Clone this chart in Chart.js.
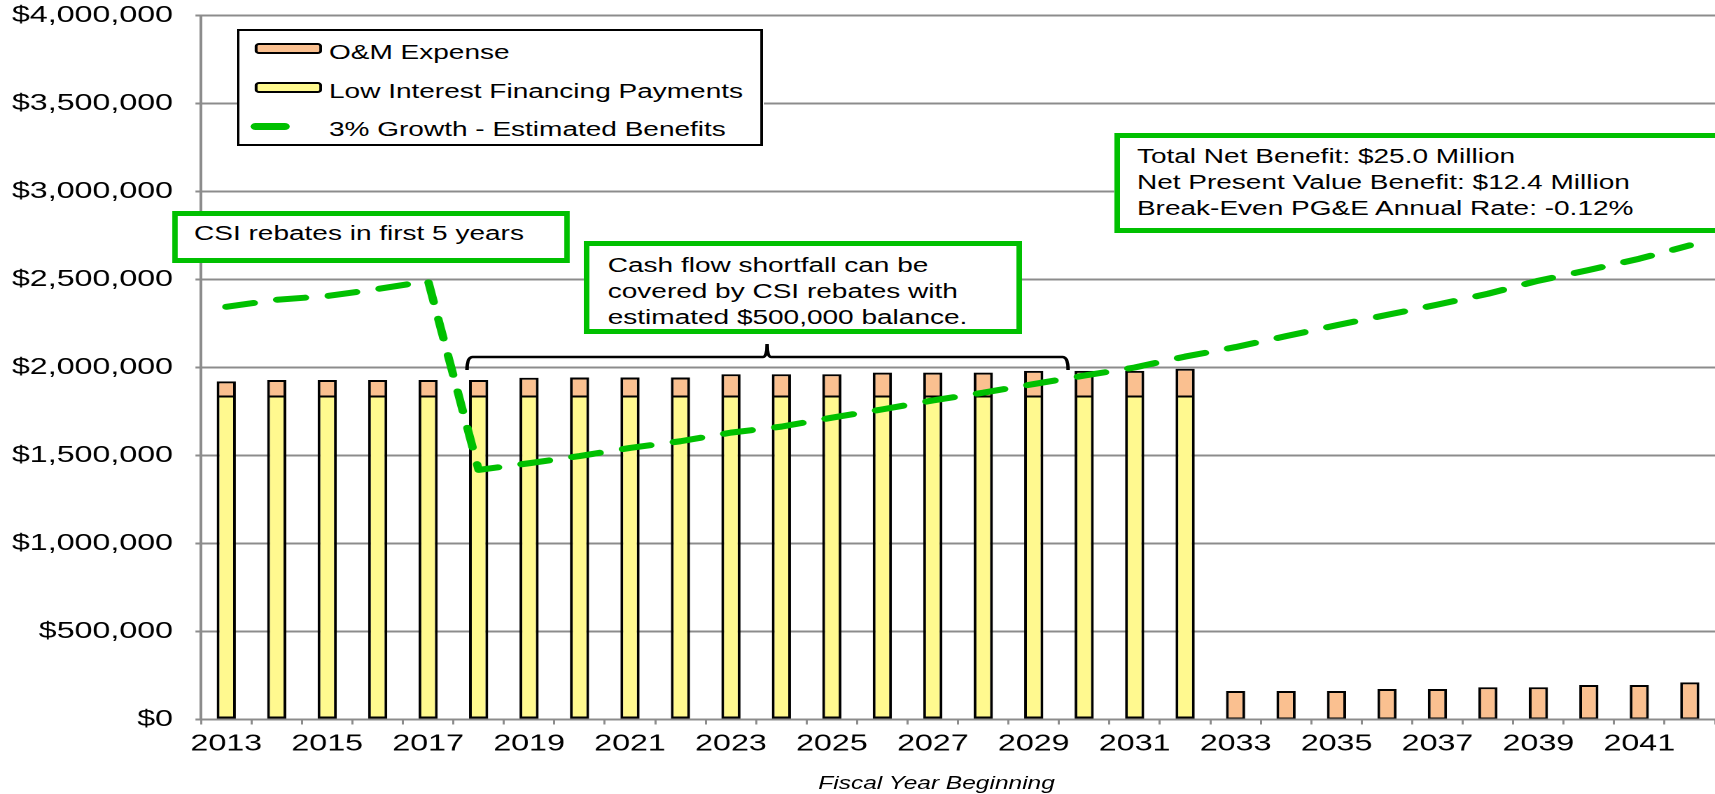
<!DOCTYPE html>
<html>
<head>
<meta charset="utf-8">
<script src="https://cdn.jsdelivr.net/npm/chart.js@4.4.1/dist/chart.umd.min.js"></script>
<style>
  html, body { margin:0; padding:0; background:#fff; overflow:hidden; }
  /* the source picture is stretched sideways, so the whole stage is drawn narrow and scaled */
  #stage { position:absolute; left:0; top:0; width:1225px; height:794px; transform:scaleX(1.4); transform-origin:0 0;
           font-family:"Liberation Sans", Arial, sans-serif; color:#000; overflow:hidden; }
  #chartCanvas { position:absolute; left:0; top:0; }
  #legendBox { position:absolute; left:169px; top:29px; width:376px; height:117px; box-sizing:border-box;
               border:2px solid #000; background:#fff; }
  .legendItem { position:absolute; left:64px; font-size:20px; line-height:24px; white-space:nowrap; }
  .legendMarker { position:absolute; box-sizing:border-box; }
  .note { position:absolute; box-sizing:border-box; background:#fff; border-style:solid; border-color:#00c000;
          border-width:5px 4px; font-size:20px; line-height:26px; white-space:nowrap; }
  #axisTitle { position:absolute; left:569px; width:200px; top:772px; line-height:22px; text-align:center;
               font-size:17.5px; font-style:italic; white-space:nowrap; }
  #brace { position:absolute; left:0; top:0; pointer-events:none; }
</style>
</head>
<body>
<div id="stage">
  <canvas id="chartCanvas" width="1225" height="794"></canvas>
  <div id="legendBox"></div>
  <div id="notes"></div>
  <div id="axisTitle"></div>
  <svg id="brace" width="1225" height="794">
    <path d="M333.6,370 Q333.6,357 337.5,357 L545,357 Q547.9,357 547.9,344 Q547.9,357 550.8,357 L759,357 Q762.9,357 762.9,370"
          fill="none" stroke="#000" stroke-width="2.5"/>
  </svg>
</div>
<script>
const years = ["2013","2014","2015","2016","2017","2018","2019","2020","2021","2022",
               "2023","2024","2025","2026","2027","2028","2029","2030","2031","2032",
               "2033","2034","2035","2036","2037","2038","2039","2040","2041","2042"];

const financingPayments = [1835000,1835000,1835000,1835000,1835000,1835000,1835000,1835000,1835000,1835000,
                           1835000,1835000,1835000,1835000,1835000,1835000,1835000,1835000,1835000,1835000,
                           null,null,null,null,null,null,null,null,null,null];

const omExpense = [86000,94000,94000,94000,94000,94000,107000,108000,108000,108000,
                   127000,127000,127000,136000,136000,136000,146000,146000,146000,158000,
                   162000,162000,162000,173000,173000,183000,183000,196000,196000,211000];

const estimatedBenefits = [2345000,2385000,2406000,2446000,2491000,1418000,1456000,1497000,1543000,1581000,
                           1630000,1664000,1715000,1762000,1813000,1857000,1906000,1954000,2000000,2062000,
                           2116000,2178000,2240000,2299000,2357000,2419000,2493000,2554000,2618000,2694000];

const yTickValues = [0,500000,1000000,1500000,2000000,2500000,3000000,3500000,4000000];

const seriesNames = ["O&M Expense", "Low Interest Financing Payments", "3% Growth - Estimated Benefits"];
const axisTitle = "Fiscal Year Beginning";

const noteCSI = ["CSI rebates in first 5 years"];
const noteCash = ["Cash flow shortfall can be", "covered by CSI rebates with", "estimated $500,000 balance."];
const noteTotals = ["Total Net Benefit: $25.0 Million", "Net Present Value Benefit: $12.4 Million", "Break-Even PG&E Annual Rate: -0.12%"];

const colours = {om:'#fac090', financing:'#fff98f', benefits:'#00c000', grid:'#8c8c8c'};

Chart.defaults.font.family = "'Liberation Sans', Arial, sans-serif";
Chart.defaults.color = '#000';

function esc(s){ return s.replace(/&/g,'&amp;'); }

// legend, written as html like the notes
let html = "";
html += "<div class='legendMarker' style='left:10.5px;top:12px;width:48px;height:11px;border:2px solid #000;border-radius:3px;background:" + colours.om + "'></div>";
html += "<div class='legendItem' style='top:8.5px'>" + esc(seriesNames[0]) + "</div>";
html += "<div class='legendMarker' style='left:10.5px;top:51px;width:48px;height:11px;border:2px solid #000;border-radius:3px;background:" + colours.financing + "'></div>";
html += "<div class='legendItem' style='top:47.5px'>" + esc(seriesNames[1]) + "</div>";
html += "<div class='legendMarker' style='left:7.5px;top:92px;width:28px;height:7px;border-radius:4px;background:" + colours.benefits + "'></div>";
html += "<div class='legendItem' style='top:86px'>" + esc(seriesNames[2]) + "</div>";
document.getElementById("legendBox").innerHTML = html;

function noteHTML(lines, box){
	let h = "<div class='note' style='left:" + box[0] + "px;top:" + box[1] + "px;width:" + box[2] + "px;height:" + box[3] +
	        "px;padding:" + box[4] + "px 0 0 " + box[5] + "px'>";
	h += lines.map(esc).join("<br>");
	h += "</div>";
	return h;
}
html = "";
html += noteHTML(noteCSI, [122.6, 210.7, 284.5, 52, 4.6, 12]);
html += noteHTML(noteCash, [417.1, 240.7, 312.8, 93.6, 6.3, 13]);
html += noteHTML(noteTotals, [795.5, 132.7, 460, 100.6, 5.3, 12.6]);
document.getElementById("notes").innerHTML = html;
document.getElementById("axisTitle").textContent = axisTitle;

const data = {
	labels: years,
	datasets: [
		{type:'line', label:seriesNames[2], data:estimatedBenefits, borderColor:colours.benefits, borderWidth:6,
		 borderDash:[20,17], borderCapStyle:'round', borderJoinStyle:'round', pointRadius:0, fill:false, tension:0, order:0},
		{type:'bar', label:seriesNames[1], data:financingPayments, backgroundColor:colours.financing, borderColor:'#000',
		 borderWidth:{top:1,bottom:2,left:2,right:2}, borderSkipped:false, barPercentage:0.38, categoryPercentage:1, order:1},
		{type:'bar', label:seriesNames[0], data:omExpense, backgroundColor:colours.om, borderColor:'#000',
		 borderWidth:{top:2,bottom:1,left:2,right:2}, borderSkipped:false, barPercentage:0.38, categoryPercentage:1, order:1}
	]
};

const chart = new Chart(document.getElementById("chartCanvas"), {
	type:'bar',
	data:data,
	options:{
		responsive:false,
		devicePixelRatio:2,
		animation:false,
		layout:{padding:{top:15.5, left:0, right:0, bottom:0}},
		plugins:{legend:{display:false}, tooltip:{enabled:false}},
		scales:{
			x:{
				stacked:true,
				grid:{display:true, drawOnChartArea:false, drawTicks:true, tickLength:5, offset:true, color:colours.grid, lineWidth:1.5},
				border:{display:true, color:colours.grid, width:2},
				ticks:{autoSkip:false, maxRotation:0, minRotation:0, padding:6, font:{size:23},
				       callback:(v, i) => i % 2 == 0 ? years[i] : ''},
				afterFit:(scale) => { scale.height = 74.5; scale.paddingLeft = 0; scale.paddingRight = 0; }
			},
			y:{
				stacked:true, min:0, max:4000000,
				afterBuildTicks:(scale) => { scale.ticks = yTickValues.map(v => ({value:v})); },
				grid:{color:colours.grid, lineWidth:2, tickLength:4},
				border:{display:true, color:colours.grid, width:2},
				ticks:{padding:16, font:{size:23}, callback:(v) => '$' + Number(v).toLocaleString('en-US')},
				afterFit:(scale) => { scale.width = 143.6; scale.paddingTop = 0; scale.paddingBottom = 0; }
			}
		}
	}
});
</script>
</body>
</html>
